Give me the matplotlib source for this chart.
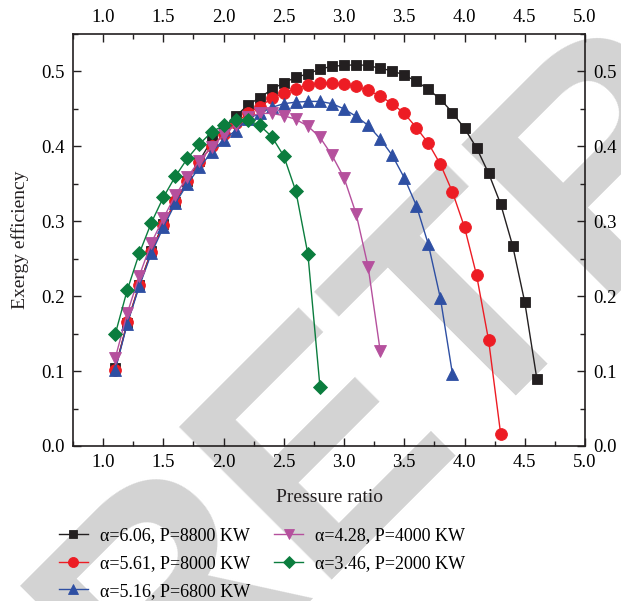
import matplotlib
matplotlib.use("Agg")
import matplotlib.pyplot as plt
from matplotlib.ticker import MultipleLocator, AutoMinorLocator

plt.rcParams['font.family'] = ['Liberation Serif', 'DejaVu Serif']

# pressure ratio values for each case
x_606 = [1.1, 1.2, 1.3, 1.4, 1.5, 1.6, 1.7, 1.8, 1.9, 2.0, 2.1, 2.2, 2.3, 2.4, 2.5, 2.6, 2.7, 2.8,
         2.9, 3.0, 3.1, 3.2, 3.3, 3.4, 3.5, 3.6, 3.7, 3.8, 3.9, 4.0, 4.1, 4.2, 4.3, 4.4, 4.5, 4.6]
y_606 = [0.104, 0.164, 0.215, 0.260, 0.297, 0.326, 0.354, 0.381, 0.408, 0.425, 0.440, 0.455, 0.465,
         0.476, 0.485, 0.492, 0.497, 0.503, 0.507, 0.508, 0.509, 0.508, 0.504, 0.501, 0.495, 0.487,
         0.476, 0.463, 0.445, 0.424, 0.398, 0.364, 0.323, 0.267, 0.192, 0.090]

x_561 = [1.1, 1.2, 1.3, 1.4, 1.5, 1.6, 1.7, 1.8, 1.9, 2.0, 2.1, 2.2, 2.3, 2.4, 2.5, 2.6, 2.7, 2.8,
         2.9, 3.0, 3.1, 3.2, 3.3, 3.4, 3.5, 3.6, 3.7, 3.8, 3.9, 4.0, 4.1, 4.2, 4.3]
y_561 = [0.102, 0.165, 0.215, 0.259, 0.295, 0.327, 0.354, 0.379, 0.400, 0.416, 0.431, 0.444, 0.453,
         0.464, 0.471, 0.477, 0.482, 0.484, 0.484, 0.483, 0.480, 0.475, 0.467, 0.457, 0.444, 0.425,
         0.404, 0.376, 0.339, 0.292, 0.228, 0.141, 0.016]

x_516 = [1.1, 1.2, 1.3, 1.4, 1.5, 1.6, 1.7, 1.8, 1.9, 2.0, 2.1, 2.2, 2.3, 2.4, 2.5, 2.6, 2.7, 2.8,
         2.9, 3.0, 3.1, 3.2, 3.3, 3.4, 3.5, 3.6, 3.7, 3.8, 3.9]
y_516 = [0.101, 0.163, 0.213, 0.257, 0.292, 0.324, 0.350, 0.372, 0.392, 0.409, 0.421, 0.437, 0.444,
         0.452, 0.457, 0.459, 0.460, 0.460, 0.457, 0.450, 0.440, 0.428, 0.410, 0.388, 0.358, 0.321,
         0.269, 0.197, 0.096]

x_428 = [1.1, 1.2, 1.3, 1.4, 1.5, 1.6, 1.7, 1.8, 1.9, 2.0, 2.1, 2.2, 2.3, 2.4, 2.5, 2.6, 2.7, 2.8,
         2.9, 3.0, 3.1, 3.2, 3.3]
y_428 = [0.117, 0.177, 0.227, 0.271, 0.304, 0.335, 0.359, 0.381, 0.399, 0.415, 0.429, 0.439, 0.444,
         0.444, 0.441, 0.436, 0.427, 0.412, 0.388, 0.358, 0.310, 0.239, 0.127]

x_346 = [1.1, 1.2, 1.3, 1.4, 1.5, 1.6, 1.7, 1.8, 1.9, 2.0, 2.1, 2.2, 2.3, 2.4, 2.5, 2.6, 2.7, 2.8]
y_346 = [0.149, 0.208, 0.257, 0.298, 0.332, 0.360, 0.384, 0.403, 0.419, 0.428, 0.435, 0.435, 0.428,
         0.413, 0.387, 0.340, 0.256, 0.079]

labels = ["α=6.06, P=8800 KW", "α=5.61, P=8000 KW", "α=5.16, P=6800 KW",
          "α=4.28, P=4000 KW", "α=3.46, P=2000 KW"]
colors = ["#231f20", "#ed1c24", "#2e4fa3", "#b5509d", "#0b7d3e"]
markers = ["s", "o", "^", "v", "D"]
msizes = [7.5, 8.5, 9, 9, 7]

fig = plt.figure(figsize=(6.21, 6.01), dpi=100)
ax = fig.add_axes([73 / 621, 155 / 601, 512 / 621, 412 / 601])
ax.patch.set_visible(False)

# light grey diagonal watermark behind everything
fig.text(0.244, -0.230, "RETRACTED", rotation=45, rotation_mode='anchor',
         ha='left', va='baseline', fontsize=225, fontweight='bold',
         family='Liberation Sans', color='#d3d3d3', zorder=-5)

series = [(x_606, y_606), (x_561, y_561), (x_516, y_516), (x_428, y_428), (x_346, y_346)]
for (xs, ys), lab, c, m, ms in zip(series, labels, colors, markers, msizes):
    ax.plot(xs, ys, color=c, marker=m, markersize=ms, linewidth=1.0,
            markeredgewidth=0.6, label=lab)

ax.set_xlim(0.75, 5.0)
ax.set_ylim(0.0, 0.55)
ax.xaxis.set_major_locator(MultipleLocator(0.5))
ax.xaxis.set_minor_locator(AutoMinorLocator(2))
ax.yaxis.set_major_locator(MultipleLocator(0.1))
ax.yaxis.set_minor_locator(AutoMinorLocator(2))
ax.xaxis.set_major_formatter(plt.FormatStrFormatter('%.1f'))
ax.yaxis.set_major_formatter(plt.FormatStrFormatter('%.1f'))

ax.tick_params(which='both', direction='in', top=True, right=True,
               labeltop=True, labelright=True, labelsize=13.5, width=1.0, color='#231f20')
ax.tick_params(which='major', length=6, pad=6)
ax.tick_params(which='minor', length=3.5)
for sp in ax.spines.values():
    sp.set_linewidth(1.2)
    sp.set_color('#231f20')

ax.set_xlabel("Pressure ratio", fontsize=14, labelpad=13, color='#231f20')
ax.set_ylabel("Exergy efficiency", fontsize=14, labelpad=9, color='#231f20')

ax.legend(loc='upper left', bbox_to_anchor=(0.095, 1 - 527 / 601),
          bbox_transform=fig.transFigure, ncol=2, frameon=False, fontsize=13,
          handlelength=1.6, handletextpad=0.65, columnspacing=1.35, labelspacing=0.6,
          borderpad=0, borderaxespad=0, markerscale=0.85)

plt.savefig("out.png", dpi=100)
